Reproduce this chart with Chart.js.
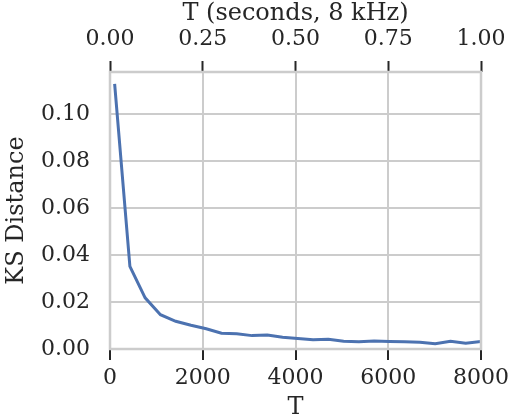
<!DOCTYPE html>
<html>
<head>
<meta charset="utf-8">
<script src="https://cdn.jsdelivr.net/npm/chart.js@4"></script>
<style>
  body { margin: 0; background: #fff; }
  #wrap { width: 509px; height: 420px; }
</style>
</head>
<body>
<div id="wrap"><canvas id="ksChart" width="509" height="420"></canvas></div>
<script>
// window lengths T (samples) and KS distance
const tValues = [100, 429, 758, 1088, 1417, 1746, 2075, 2404, 2733, 3063, 3392, 3721, 4050,
                 4379, 4708, 5038, 5367, 5696, 6025, 6354, 6683, 7013, 7342, 7671, 8000];
const ksDistance = [0.1129, 0.0352, 0.0218, 0.0146, 0.0118, 0.0101, 0.0086, 0.0067, 0.0065, 0.0057,
                    0.0060, 0.0050, 0.0045, 0.0039, 0.0041, 0.0033, 0.0031, 0.0034, 0.0032, 0.0031,
                    0.0029, 0.0022, 0.0033, 0.0025, 0.0032];
const bottomTicks = [0, 2000, 4000, 6000, 8000];
const topTicks = [0.00, 0.25, 0.50, 0.75, 1.00];
const yTicks = [0.00, 0.02, 0.04, 0.06, 0.08, 0.10];

const textColor = '#262626';
const gridColor = '#cccccc';
const tickFont = { family: 'DejaVu Serif', size: 22 };
const labelFont = { family: 'DejaVu Serif', size: 24 };

const points = tValues.map((t, i) => ({ x: t, y: ksDistance[i] }));

function fixedTicks(list) {
    return function(scale) {
        scale.ticks = list.map(v => ({ value: v }));
    };
}

// fix the axis box sizes so the plot area sits where it does in the figure
function fixSize(w, h) {
    return function(s) {
        if (w !== null) s.width = w;
        if (h !== null) s.height = h;
        s.paddingLeft = s.paddingRight = s.paddingTop = s.paddingBottom = 0;
    };
}

// light grey frame round the plot area (all four spines)
const framePlugin = {
    id: 'frame',
    afterDatasetsDraw(chart) {
        const { ctx, chartArea: a } = chart;
        ctx.save();
        ctx.strokeStyle = gridColor;
        ctx.lineWidth = 2.5;
        ctx.strokeRect(a.left, a.top, a.right - a.left, a.bottom - a.top);
        ctx.restore();
    }
};

const ctx = document.getElementById('ksChart').getContext('2d');
const chart = new Chart(ctx, {
    type: 'line',
    data: {
        datasets: [{
            data: points,
            borderColor: '#4c72b0',
            borderWidth: 3,
            pointRadius: 0,
            tension: 0,
            fill: false,
            xAxisID: 'x',
            yAxisID: 'y'
        }]
    },
    options: {
        responsive: false,
        animation: false,
        layout: { padding: 0 },
        plugins: { legend: { display: false }, tooltip: { enabled: false } },
        scales: {
            x: {
                type: 'linear',
                position: 'bottom',
                min: 0,
                max: 8000,
                afterBuildTicks: fixedTicks(bottomTicks),
                afterFit: fixSize(null, 71),
                grid: { color: gridColor, lineWidth: 2, tickColor: textColor, tickLength: 11, tickWidth: 2 },
                border: { display: false },
                ticks: { color: textColor, font: tickFont, padding: 5, maxRotation: 0,
                         callback: v => String(v) },
                title: { display: true, text: 'T', color: textColor, font: labelFont, padding: { top: 0, bottom: -2 } }
            },
            x2: {
                type: 'linear',
                axis: 'x',
                position: 'top',
                min: 0,
                max: 1,
                afterBuildTicks: fixedTicks(topTicks),
                afterFit: fixSize(null, 72),
                grid: { drawOnChartArea: false, tickColor: textColor, tickLength: 11, tickWidth: 2 },
                border: { display: false },
                ticks: { color: textColor, font: tickFont, padding: 9, maxRotation: 0,
                         callback: v => v.toFixed(2) },
                title: { display: true, text: 'T (seconds, 8 kHz)', color: textColor, font: labelFont,
                         padding: { top: -1, bottom: 0 } }
            },
            y: {
                type: 'linear',
                position: 'left',
                min: 0,
                max: 0.118,
                afterBuildTicks: fixedTicks(yTicks),
                afterFit: fixSize(110, null),
                grid: { color: gridColor, lineWidth: 2, drawTicks: false },
                border: { display: false },
                ticks: { color: textColor, font: tickFont, padding: 20,
                         callback: v => v.toFixed(2) },
                title: { display: true, text: 'KS Distance', color: textColor, font: labelFont,
                         padding: { top: 2, bottom: 0 } }
            },
            y2: {
                type: 'linear',
                position: 'right',
                min: 0,
                max: 0.118,
                afterFit: fixSize(28, null),
                grid: { drawOnChartArea: false, drawTicks: false },
                border: { display: false },
                ticks: { display: false }
            }
        }
    },
    plugins: [framePlugin]
});
</script>
</body>
</html>
